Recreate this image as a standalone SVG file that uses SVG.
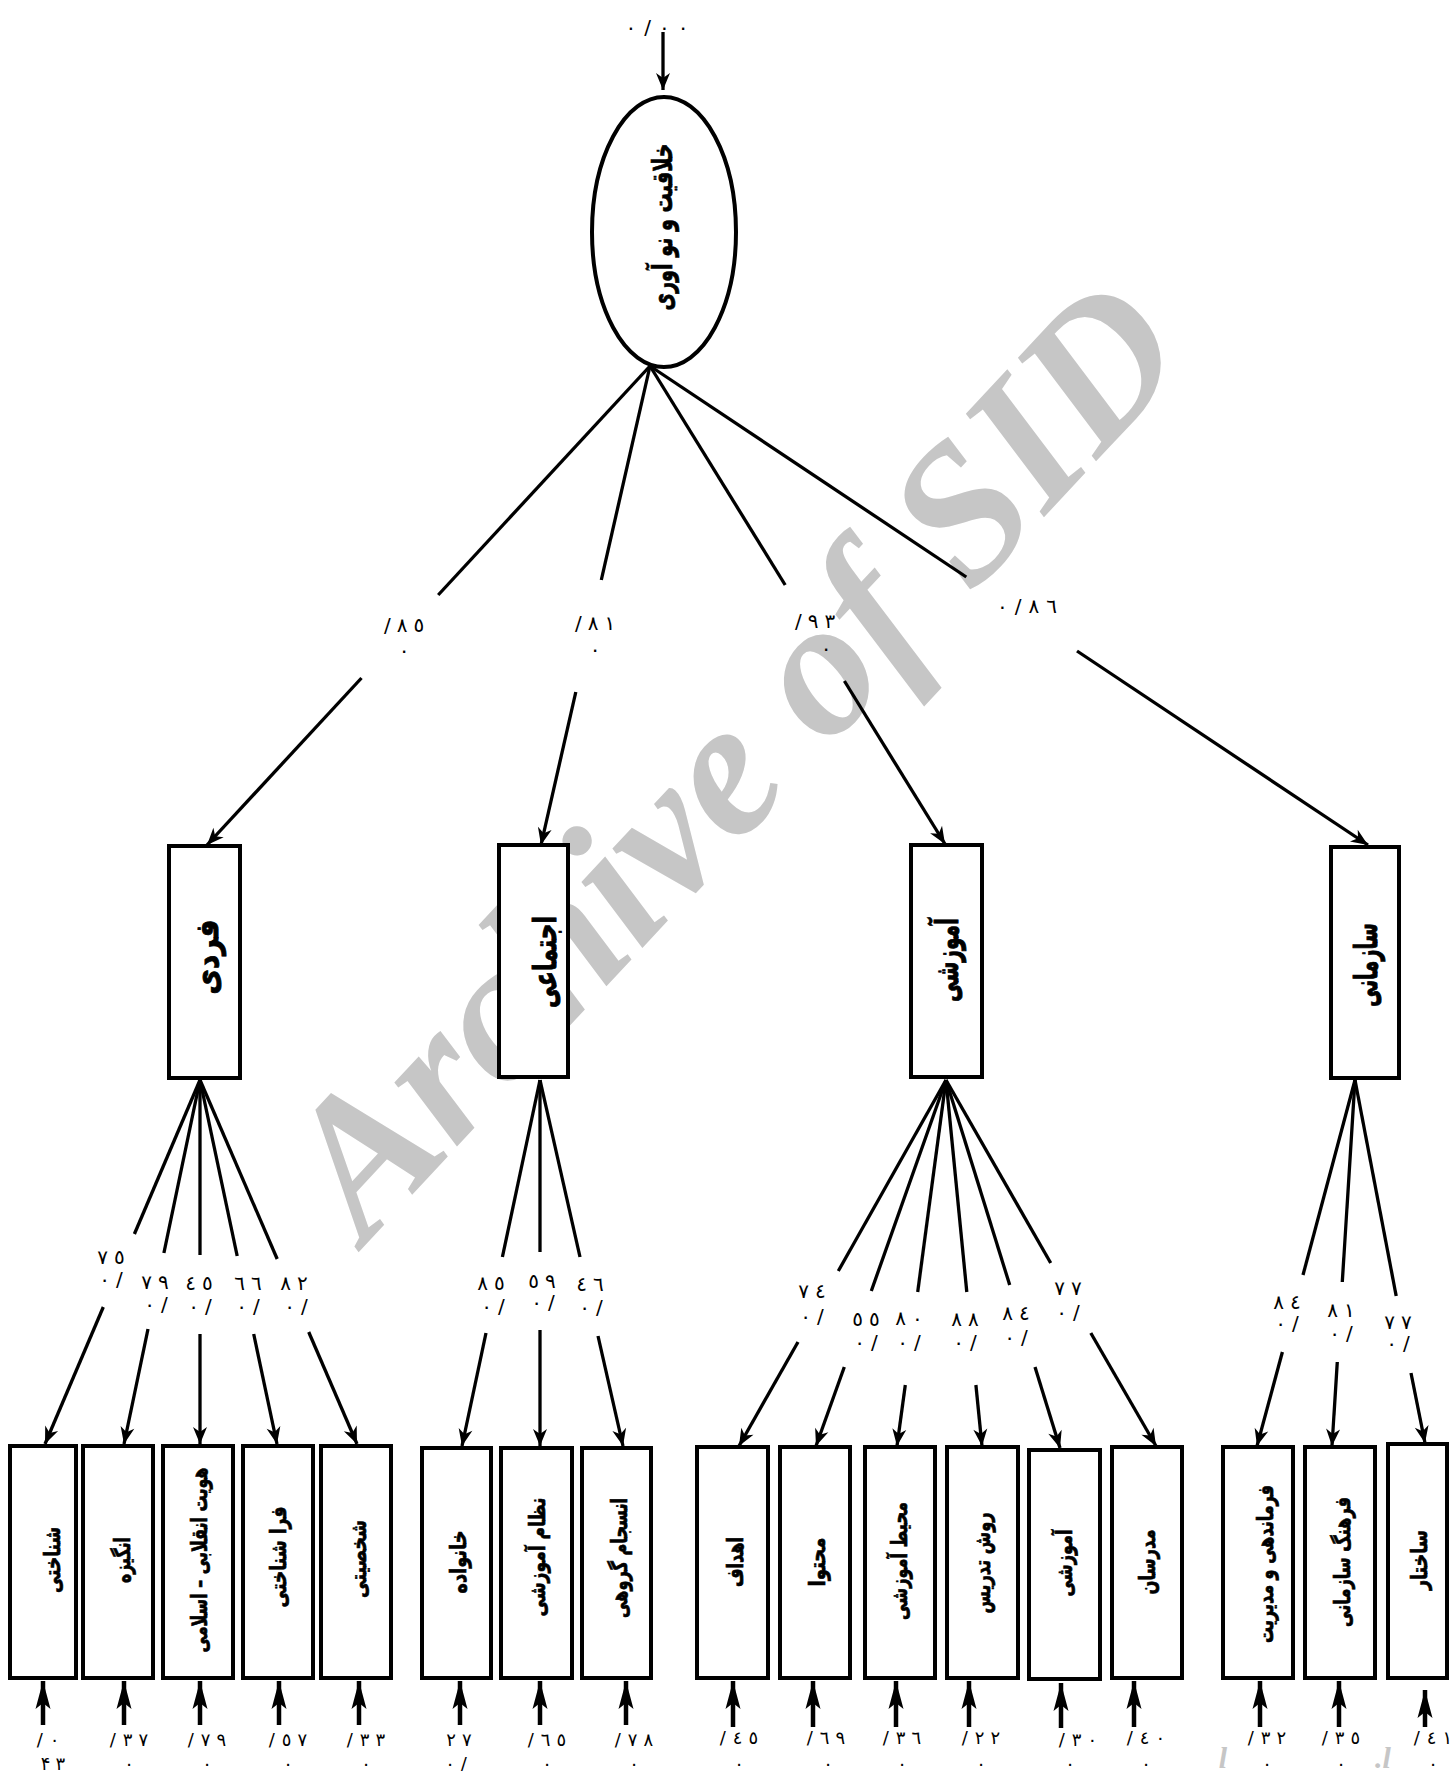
<svg xmlns="http://www.w3.org/2000/svg" width="1454" height="1771" viewBox="0 0 1454 1771">
  <style>
    .wm { font-family: 'Liberation Serif', serif; font-weight: bold; font-style: italic; font-size: 195px; fill: #c6c6c6; }
    .wm2 { font-family: 'Liberation Serif', serif; font-weight: bold; font-style: italic; font-size: 30px; fill: #c6c6c6; }
    .c { stroke: #000; stroke-width: 3.3; fill: none; }
    .ce { stroke: #000; stroke-width: 4.5; fill: none; }
    .node { fill: #fff; stroke: #000; stroke-width: 4; }
    .t { font-family: 'DejaVu Sans', sans-serif; font-weight: bold; fill: #000; stroke: #000; stroke-width: 0.7; text-anchor: middle; dominant-baseline: central; }
    .big { font-size: 32px; stroke-width: 1; }
    .sm { font-size: 22px; }
    .n { font-family: 'DejaVu Sans', sans-serif; font-size: 20px; fill: #000; text-anchor: middle; dominant-baseline: central; }
    .e { font-size: 18px; }
  </style>
  <defs>
    <marker id="ah" viewBox="-18 -9 20 18" markerWidth="20" markerHeight="18" refX="0" refY="0" orient="auto" markerUnits="userSpaceOnUse" overflow="visible">
      <path d="M0,0 L-17,-7 L-12,0 L-17,7 Z" fill="#000"/>
    </marker>
    <marker id="ahe" viewBox="-30 -10 32 20" markerWidth="32" markerHeight="20" refX="0" refY="0" orient="auto" markerUnits="userSpaceOnUse" overflow="visible">
      <path d="M0,0 L-28,-7.5 L-22,0 L-28,7.5 Z" fill="#000"/>
    </marker>
  </defs>

  <rect width="1454" height="1771" fill="#fff"/>

  <!-- background stamp -->
  <g id="watermark">
    <text class="wm" x="731" y="756" transform="rotate(-47 731 756)" text-anchor="middle" dominant-baseline="central">Archive of SID</text>
    <text class="wm2" x="1223" y="1768" text-anchor="middle">l</text>
    <text class="wm2" x="1383" y="1768" text-anchor="middle">.l</text>
  </g>

  <g id="connectors">
    <line class="c" x1="663" y1="32" x2="663" y2="90" marker-end="url(#ah)"/>

    <line class="c" x1="650" y1="366" x2="438.2" y2="595"/>
    <line class="c" x1="361.5" y1="678" x2="207" y2="845" marker-end="url(#ah)"/>
    <line class="c" x1="650" y1="366" x2="601.3" y2="580"/>
    <line class="c" x1="575.8" y1="692" x2="541" y2="845" marker-end="url(#ah)"/>
    <line class="c" x1="650" y1="366" x2="785.2" y2="585"/>
    <line class="c" x1="844.4" y1="681" x2="945" y2="844" marker-end="url(#ah)"/>
    <line class="c" x1="650" y1="366" x2="966.3" y2="577"/>
    <line class="c" x1="1077" y1="651" x2="1368" y2="845" marker-end="url(#ah)"/>

    <line class="c" x1="200" y1="1080" x2="134.4" y2="1234"/>
    <line class="c" x1="103.3" y1="1307" x2="45" y2="1444" marker-end="url(#ah)"/>
    <line class="c" x1="200" y1="1080" x2="163.9" y2="1253"/>
    <line class="c" x1="148" y1="1329" x2="124" y2="1444" marker-end="url(#ah)"/>
    <line class="c" x1="200" y1="1080" x2="200" y2="1255"/>
    <line class="c" x1="200" y1="1334" x2="200" y2="1444" marker-end="url(#ah)"/>
    <line class="c" x1="200" y1="1080" x2="237.2" y2="1256"/>
    <line class="c" x1="253.7" y1="1334" x2="277" y2="1444" marker-end="url(#ah)"/>
    <line class="c" x1="200" y1="1080" x2="277.2" y2="1259"/>
    <line class="c" x1="308.7" y1="1332" x2="357" y2="1444" marker-end="url(#ah)"/>

    <line class="c" x1="540" y1="1080" x2="502.4" y2="1257"/>
    <line class="c" x1="486" y1="1333" x2="462" y2="1446" marker-end="url(#ah)"/>
    <line class="c" x1="540" y1="1080" x2="540" y2="1252"/>
    <line class="c" x1="540" y1="1330" x2="540" y2="1446" marker-end="url(#ah)"/>
    <line class="c" x1="540" y1="1080" x2="580" y2="1257"/>
    <line class="c" x1="598" y1="1336" x2="623" y2="1446" marker-end="url(#ah)"/>

    <line class="c" x1="946" y1="1080" x2="838.3" y2="1271"/>
    <line class="c" x1="798" y1="1342" x2="739" y2="1446" marker-end="url(#ah)"/>
    <line class="c" x1="946" y1="1080" x2="871.3" y2="1291"/>
    <line class="c" x1="844.3" y1="1367" x2="816" y2="1446" marker-end="url(#ah)"/>
    <line class="c" x1="946" y1="1080" x2="917.7" y2="1292"/>
    <line class="c" x1="905.3" y1="1385" x2="897" y2="1446" marker-end="url(#ah)"/>
    <line class="c" x1="946" y1="1080" x2="966.8" y2="1292"/>
    <line class="c" x1="975.9" y1="1385" x2="982" y2="1446" marker-end="url(#ah)"/>
    <line class="c" x1="946" y1="1080" x2="1009.7" y2="1285"/>
    <line class="c" x1="1035" y1="1367" x2="1060" y2="1448" marker-end="url(#ah)"/>
    <line class="c" x1="946" y1="1080" x2="1050.7" y2="1263"/>
    <line class="c" x1="1090.8" y1="1333" x2="1156" y2="1446" marker-end="url(#ah)"/>

    <line class="c" x1="1355" y1="1080" x2="1303" y2="1275"/>
    <line class="c" x1="1282.4" y1="1352" x2="1257" y2="1446" marker-end="url(#ah)"/>
    <line class="c" x1="1355" y1="1080" x2="1342.3" y2="1282"/>
    <line class="c" x1="1337.3" y1="1362" x2="1332" y2="1446" marker-end="url(#ah)"/>
    <line class="c" x1="1355" y1="1080" x2="1396.2" y2="1296"/>
    <line class="c" x1="1411" y1="1373" x2="1425" y2="1443" marker-end="url(#ah)"/>

    <!-- residual arrows -->
    <line class="ce" x1="43" y1="1725" x2="43" y2="1681" marker-end="url(#ahe)"/>
    <line class="ce" x1="124" y1="1725" x2="124" y2="1681" marker-end="url(#ahe)"/>
    <line class="ce" x1="200" y1="1725" x2="200" y2="1681" marker-end="url(#ahe)"/>
    <line class="ce" x1="279" y1="1725" x2="279" y2="1681" marker-end="url(#ahe)"/>
    <line class="ce" x1="359" y1="1725" x2="359" y2="1681" marker-end="url(#ahe)"/>
    <line class="ce" x1="460" y1="1725" x2="460" y2="1681" marker-end="url(#ahe)"/>
    <line class="ce" x1="540" y1="1725" x2="540" y2="1681" marker-end="url(#ahe)"/>
    <line class="ce" x1="626" y1="1725" x2="626" y2="1681" marker-end="url(#ahe)"/>
    <line class="ce" x1="733" y1="1727" x2="733" y2="1681" marker-end="url(#ahe)"/>
    <line class="ce" x1="813" y1="1727" x2="813" y2="1681" marker-end="url(#ahe)"/>
    <line class="ce" x1="896" y1="1727" x2="896" y2="1681" marker-end="url(#ahe)"/>
    <line class="ce" x1="969" y1="1727" x2="969" y2="1681" marker-end="url(#ahe)"/>
    <line class="ce" x1="1061" y1="1728" x2="1061" y2="1683" marker-end="url(#ahe)"/>
    <line class="ce" x1="1134" y1="1727" x2="1134" y2="1681" marker-end="url(#ahe)"/>
    <line class="ce" x1="1260" y1="1727" x2="1260" y2="1681" marker-end="url(#ahe)"/>
    <line class="ce" x1="1339" y1="1727" x2="1339" y2="1681" marker-end="url(#ahe)"/>
    <line class="ce" x1="1425" y1="1727" x2="1425" y2="1690" marker-end="url(#ahe)"/>
  </g>

  <g id="loadings" direction="ltr" unicode-bidi="bidi-override">
    <text class="n" x="657" y="27" dx="0 8 8 8">٠/٠٠</text>
    <text class="n" x="404" y="625" dx="0 6 6">/٨٥</text><text class="n" x="404" y="650">٠</text>
    <text class="n" x="595" y="623" dx="0 6 6">/٨١</text><text class="n" x="595" y="649">٠</text>
    <text class="n" x="815" y="621" dx="0 6 6">/٩٣</text><text class="n" x="826" y="648">٠</text>
    <text class="n" x="1027" y="606" dx="0 7 7 7">٠/٨٦</text>

    <text class="n" x="111" y="1257" dx="0 6">٧٥</text><text class="n" x="111" y="1279" dx="0 6">٠/</text>
    <text class="n" x="155" y="1282" dx="0 6">٧٩</text><text class="n" x="156" y="1304" dx="0 6">٠/</text>
    <text class="n" x="199" y="1283" dx="0 6">٤٥</text><text class="n" x="200" y="1306" dx="0 6">٠/</text>
    <text class="n" x="248" y="1283" dx="0 6">٦٦</text><text class="n" x="248" y="1306" dx="0 6">٠/</text>
    <text class="n" x="294" y="1283" dx="0 6">٨٢</text><text class="n" x="296" y="1306" dx="0 6">٠/</text>

    <text class="n" x="491" y="1283" dx="0 6">٨٥</text><text class="n" x="493" y="1306" dx="0 6">٠/</text>
    <text class="n" x="542" y="1281" dx="0 6">٥٩</text><text class="n" x="543" y="1302" dx="0 6">٠/</text>
    <text class="n" x="590" y="1284" dx="0 6">٤٦</text><text class="n" x="591" y="1307" dx="0 6">٠/</text>

    <text class="n" x="812" y="1291" dx="0 6">٧٤</text><text class="n" x="812" y="1316" dx="0 6">٠/</text>
    <text class="n" x="866" y="1319" dx="0 6">٥٥</text><text class="n" x="866" y="1342" dx="0 6">٠/</text>
    <text class="n" x="909" y="1318" dx="0 6">٨٠</text><text class="n" x="909" y="1342" dx="0 6">٠/</text>
    <text class="n" x="965" y="1319" dx="0 6">٨٨</text><text class="n" x="965" y="1342" dx="0 6">٠/</text>
    <text class="n" x="1016" y="1313" dx="0 6">٨٤</text><text class="n" x="1016" y="1337" dx="0 6">٠/</text>
    <text class="n" x="1068" y="1288" dx="0 6">٧٧</text><text class="n" x="1068" y="1312" dx="0 6">٠/</text>

    <text class="n" x="1287" y="1302" dx="0 6">٨٤</text><text class="n" x="1287" y="1323" dx="0 6">٠/</text>
    <text class="n" x="1341" y="1310" dx="0 6">٨١</text><text class="n" x="1341" y="1333" dx="0 6">٠/</text>
    <text class="n" x="1398" y="1322" dx="0 6">٧٧</text><text class="n" x="1398" y="1343" dx="0 6">٠/</text>

    <text class="n e" x="48" y="1739" dx="0 7">/٠</text><text class="n e" x="53" y="1763" dx="0 5">۴۳</text>
    <text class="n e" x="129" y="1739" dx="0 7 6">/٣٧</text><text class="n e" x="129" y="1763">٠</text>
    <text class="n e" x="207" y="1739" dx="0 7 6">/٧٩</text><text class="n e" x="207" y="1763">٠</text>
    <text class="n e" x="288" y="1739" dx="0 7 6">/٥٧</text><text class="n e" x="288" y="1763">٠</text>
    <text class="n e" x="366" y="1739" dx="0 7 6">/٣٣</text><text class="n e" x="366" y="1763">٠</text>
    <text class="n e" x="459" y="1739" dx="0 6">٢٧</text><text class="n e" x="456" y="1763" dx="0 6">٠/</text>
    <text class="n e" x="547" y="1739" dx="0 7 6">/٦٥</text><text class="n e" x="547" y="1763">٠</text>
    <text class="n e" x="634" y="1739" dx="0 7 6">/٧٨</text><text class="n e" x="634" y="1763">٠</text>
    <text class="n e" x="739" y="1737" dx="0 7 6">/٤٥</text><text class="n e" x="739" y="1763">٠</text>
    <text class="n e" x="826" y="1737" dx="0 7 6">/٦٩</text><text class="n e" x="828" y="1763">٠</text>
    <text class="n e" x="902" y="1737" dx="0 7 6">/٣٦</text><text class="n e" x="902" y="1763">٠</text>
    <text class="n e" x="981" y="1737" dx="0 7 6">/٢٢</text><text class="n e" x="981" y="1763">٠</text>
    <text class="n e" x="1078" y="1739" dx="0 7 6">/٣٠</text><text class="n e" x="1070" y="1763">٠</text>
    <text class="n e" x="1146" y="1737" dx="0 7 6">/٤٠</text><text class="n e" x="1146" y="1763">٠</text>
    <text class="n e" x="1267" y="1737" dx="0 7 6">/٣٢</text><text class="n e" x="1267" y="1763">٠</text>
    <text class="n e" x="1341" y="1737" dx="0 7 6">/٣٥</text><text class="n e" x="1341" y="1763">٠</text>
    <text class="n e" x="1433" y="1737" dx="0 7 6">/٤١</text><text class="n e" x="1433" y="1763">٠</text>
  </g>

  <g id="n-root">
    <ellipse class="node" cx="664" cy="232" rx="72" ry="135"/>
    <text class="t" font-size="28" stroke-width="1" x="662" y="227" transform="rotate(-90 662 227)" textLength="167" lengthAdjust="spacingAndGlyphs">خلاقیت و نو آوری</text>
  </g>

  <g id="n-fardi">
    <rect class="node" x="169" y="846" width="71" height="232"/>
    <text class="t big" x="207" y="957" transform="rotate(-90 207 957)" textLength="75" lengthAdjust="spacingAndGlyphs">فردی</text>
  </g>
  <g id="n-ejtemai">
    <rect class="node" x="499" y="845" width="69" height="232"/>
    <text class="t big" x="545" y="962" transform="rotate(-90 545 962)" textLength="92" lengthAdjust="spacingAndGlyphs">اجتماعی</text>
  </g>
  <g id="n-amoozeshi">
    <rect class="node" x="911" y="845" width="71" height="232"/>
    <text class="t big" x="947" y="960" transform="rotate(-90 947 960)" textLength="84" lengthAdjust="spacingAndGlyphs">آموزشی</text>
  </g>
  <g id="n-sazmani">
    <rect class="node" x="1331" y="847" width="68" height="231"/>
    <text class="t big" x="1366" y="965" transform="rotate(-90 1366 965)" textLength="84" lengthAdjust="spacingAndGlyphs">سازمانی</text>
  </g>

  <g id="n-shenakhti">
    <rect class="node" x="10" y="1446" width="66" height="232"/>
    <text class="t sm" x="52" y="1560" transform="rotate(-90 52 1560)" textLength="66" lengthAdjust="spacingAndGlyphs">شناختی</text>
  </g>
  <g id="n-angizeh">
    <rect class="node" x="83" y="1446" width="70" height="232"/>
    <text class="t sm" x="122" y="1560" transform="rotate(-90 122 1560)" textLength="46" lengthAdjust="spacingAndGlyphs">انگیزه</text>
  </g>
  <g id="n-hoviat">
    <rect class="node" x="163" y="1446" width="70" height="232"/>
    <text class="t sm" x="199" y="1560" transform="rotate(-90 199 1560)" textLength="185" lengthAdjust="spacingAndGlyphs">هویت انقلابی – اسلامی</text>
  </g>
  <g id="n-farashenakhti">
    <rect class="node" x="243" y="1446" width="70" height="232"/>
    <text class="t sm" x="278" y="1557" transform="rotate(-90 278 1557)" textLength="101" lengthAdjust="spacingAndGlyphs">فرا شناختی</text>
  </g>
  <g id="n-shakhsiati">
    <rect class="node" x="321" y="1446" width="70" height="232"/>
    <text class="t sm" x="358" y="1559" transform="rotate(-90 358 1559)" textLength="78" lengthAdjust="spacingAndGlyphs">شخصیتی</text>
  </g>
  <g id="n-khanevadeh">
    <rect class="node" x="422" y="1448" width="69" height="230"/>
    <text class="t sm" x="458" y="1562" transform="rotate(-90 458 1562)" textLength="63" lengthAdjust="spacingAndGlyphs">خانواده</text>
  </g>
  <g id="n-nezam">
    <rect class="node" x="501" y="1448" width="71" height="230"/>
    <text class="t sm" x="537" y="1557" transform="rotate(-90 537 1557)" textLength="119" lengthAdjust="spacingAndGlyphs">نظام آموزشی</text>
  </g>
  <g id="n-ensejam">
    <rect class="node" x="582" y="1448" width="69" height="230"/>
    <text class="t sm" x="619" y="1558" transform="rotate(-90 619 1558)" textLength="120" lengthAdjust="spacingAndGlyphs">انسجام گروهی</text>
  </g>
  <g id="n-ahdaf">
    <rect class="node" x="697" y="1447" width="71" height="231"/>
    <text class="t sm" x="735" y="1562" transform="rotate(-90 735 1562)" textLength="50" lengthAdjust="spacingAndGlyphs">اهداف</text>
  </g>
  <g id="n-mohtava">
    <rect class="node" x="780" y="1447" width="70" height="231"/>
    <text class="t sm" x="817" y="1562" transform="rotate(-90 817 1562)" textLength="49" lengthAdjust="spacingAndGlyphs">محتوا</text>
  </g>
  <g id="n-mohit">
    <rect class="node" x="865" y="1447" width="70" height="231"/>
    <text class="t sm" x="899" y="1561" transform="rotate(-90 899 1561)" textLength="118" lengthAdjust="spacingAndGlyphs">محیط آموزشی</text>
  </g>
  <g id="n-ravesh">
    <rect class="node" x="947" y="1447" width="71" height="231"/>
    <text class="t sm" x="982" y="1563" transform="rotate(-90 982 1563)" textLength="101" lengthAdjust="spacingAndGlyphs">روش تدریس</text>
  </g>
  <g id="n-amoozeshi2">
    <rect class="node" x="1029" y="1450" width="71" height="229"/>
    <text class="t sm" x="1064" y="1563" transform="rotate(-90 1064 1563)" textLength="67" lengthAdjust="spacingAndGlyphs">آموزشی</text>
  </g>
  <g id="n-modarresan">
    <rect class="node" x="1112" y="1447" width="70" height="231"/>
    <text class="t sm" x="1147" y="1562" transform="rotate(-90 1147 1562)" textLength="65" lengthAdjust="spacingAndGlyphs">مدرسان</text>
  </g>
  <g id="n-farmandehi">
    <rect class="node" x="1223" y="1447" width="70" height="231"/>
    <text class="t sm" x="1265" y="1564" transform="rotate(-90 1265 1564)" textLength="158" lengthAdjust="spacingAndGlyphs">فرماندهی و مدیریت</text>
  </g>
  <g id="n-farhang">
    <rect class="node" x="1305" y="1447" width="70" height="231"/>
    <text class="t sm" x="1342" y="1562" transform="rotate(-90 1342 1562)" textLength="130" lengthAdjust="spacingAndGlyphs">فرهنگ سازمانی</text>
  </g>
  <g id="n-sakhtar">
    <rect class="node" x="1388" y="1444" width="59" height="234"/>
    <text class="t sm" x="1419" y="1560" transform="rotate(-90 1419 1560)" textLength="60" lengthAdjust="spacingAndGlyphs">ساختار</text>
  </g>
</svg>
